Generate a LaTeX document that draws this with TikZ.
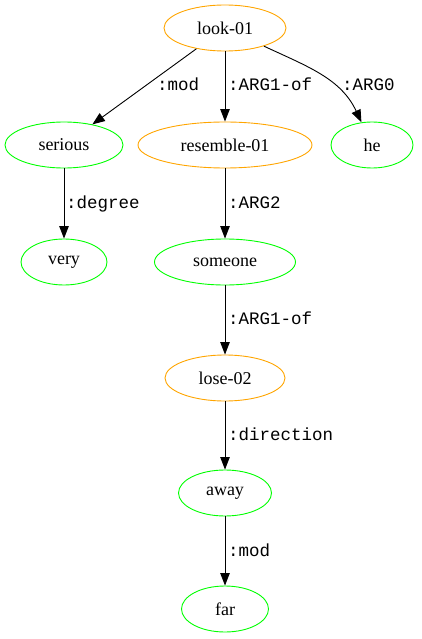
\documentclass[tikz,border=0pt]{standalone}
\usepackage{fontspec}
\setmainfont{Liberation Serif}
\setmonofont{Liberation Mono}
\usetikzlibrary{arrows.meta,shapes.geometric}
\definecolor{gvorange}{HTML}{FFA500}
\definecolor{gvgreen}{HTML}{00FF00}
\begin{document}
\begin{tikzpicture}[x=1pt,y=-1pt,
  concept/.style={ellipse, draw, line width=0.9pt, minimum height=46pt, inner sep=0pt,
    font=\fontsize{18}{20}\selectfont},
  event/.style={concept, draw=gvorange},
  entity/.style={concept, draw=gvgreen},
  rel/.style={line width=0.9pt, -{Triangle[length=12.5pt,width=9.5pt]}},
  role/.style={anchor=base west, inner sep=0pt, font=\ttfamily\fontsize{17.5}{19}\selectfont}]
\useasboundingbox (0,0) rectangle (421,639);
% concepts
\node[event,  minimum width=122pt] (look)     at (225,28)  {look-01};
\node[entity, minimum width=118pt] (serious)  at (64,145)  {serious};
\node[event,  minimum width=174pt] (resemble) at (225,145) {resemble-01};
\node[entity, minimum width=82pt]  (he)       at (372,145) {he};
\node[entity, minimum width=86pt]  (very)     at (64,262)  {very};
\node[entity, minimum width=141pt] (someone)  at (225,262) {someone};
\node[event,  minimum width=120pt] (lose)     at (225,378) {lose-02};
\node[entity, minimum width=93pt]  (away)     at (225,493) {away};
\node[entity, minimum width=87pt]  (far)      at (225,609) {far};
% relations
\draw[rel] (look) -- (serious);
\draw[rel] (look) -- (resemble);
\draw[rel] (look) to[out=-25,in=115] (he);
\draw[rel] (serious) -- (very);
\draw[rel] (resemble) -- (someone);
\draw[rel] (someone) -- (lose);
\draw[rel] (lose) -- (away);
\draw[rel] (away) -- (far);
% role labels
\node[role] (l1) at (157,91)  {:mod};
\node[role] (l2) at (228,91)  {:ARG1-of};
\node[role] (l3) at (342,91)  {:ARG0};
\node[role] (l4) at (66,208)  {:degree};
\node[role] (l5) at (228,208) {:ARG2};
\node[role] (l6) at (228,324) {:ARG1-of};
\node[role] (l7) at (228,440) {:direction};
\node[role] (l8) at (228,556) {:mod};
\end{tikzpicture}
\end{document}
